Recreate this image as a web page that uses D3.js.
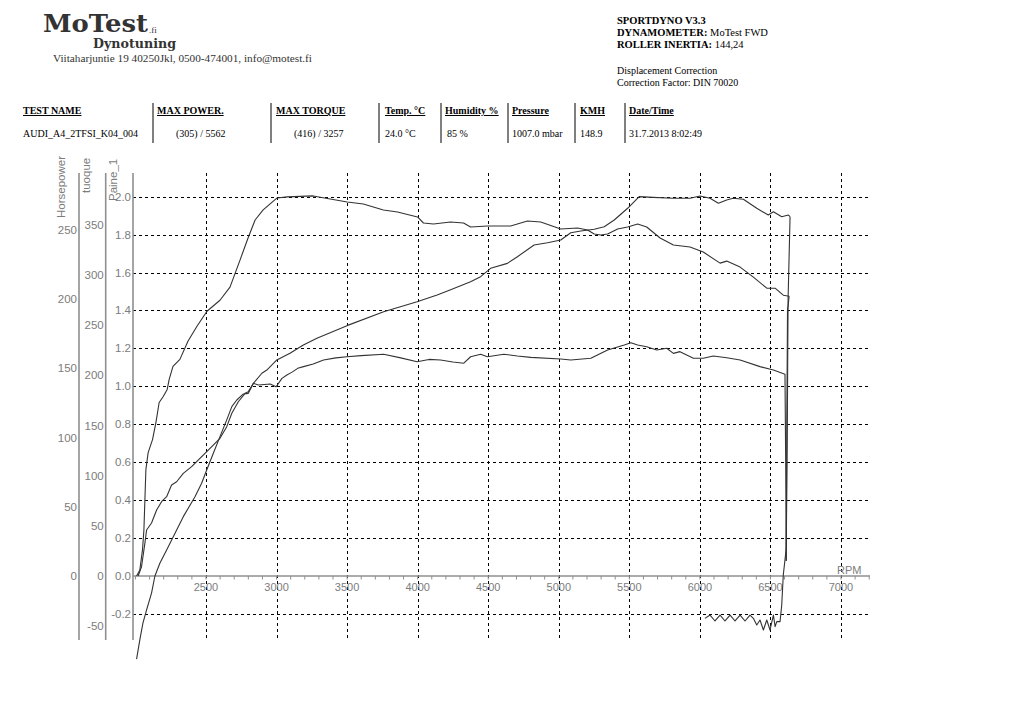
<!DOCTYPE html>
<html>
<head>
<meta charset="utf-8">
<script src="https://cdn.jsdelivr.net/npm/d3@7"></script>
<style>
  body { margin: 0; background: #fff; }
  svg { display: block; }
</style>
</head>
<body>
<div id="chart"></div>
<script>
// ---- data ----
const rpmTicks = d3.range(2500, 7001, 500);
const rpmMinorTicks = d3.range(2000, 7201, 100);
const barTicks = [-0.2, 0, 0.2, 0.4, 0.6, 0.8, 1.0, 1.2, 1.4, 1.6, 1.8, 2.0];
const nmTicks = [-50, 0, 50, 100, 150, 200, 250, 300, 350];
const hpTicks = [0, 50, 100, 150, 200, 250];

// torque run (Nm)
const torqueRpm = [2008, 2031, 2050, 2060, 2074, 2090, 2121, 2145, 2168, 2197, 2225, 2239, 2266, 2315, 2372, 2436,
  2507, 2599, 2670, 2741, 2798, 2848, 2905, 3004, 3075, 3260, 3501, 3615, 3757, 3857, 3999, 4041, 4112, 4233,
  4325, 4375, 4496, 4659, 4778, 4872, 5014, 5133, 5204, 5251, 5298, 5346, 5417, 5488, 5559, 5623, 5718, 5812,
  5930, 6024, 6143, 6190, 6285, 6379, 6474, 6533, 6591, 6632, 6626, 6621, 6616, 6612];
const torqueNm = [0, 6, 26, 46, 106, 123, 136, 153, 173, 179, 186, 196, 209, 216, 234, 249,
  264, 275, 288, 315, 337, 355, 365, 377, 378, 379, 373, 371, 365, 363, 358, 352, 351, 353,
  352, 348, 349, 349, 354, 353, 346, 347, 345, 341, 340, 341, 346, 348, 351, 348, 337, 330,
  328, 323, 312, 314, 308, 298, 287, 287, 280, 279, 270, 266, 150, 15];

// power run (hp)
const powerRpm = [2019, 2043, 2067, 2079, 2114, 2150, 2185, 2221, 2256, 2292, 2339, 2398, 2457, 2516, 2599, 2647,
  2683, 2729, 2777, 2800, 2836, 2896, 2931, 3002, 3095, 3190, 3286, 3499, 3759, 3996, 4138, 4229, 4375, 4446,
  4517, 4636, 4707, 4825, 4920, 5014, 5085, 5156, 5251, 5322, 5393, 5488, 5570, 5668, 5810, 5930, 6001, 6072,
  6131, 6190, 6235, 6308, 6403, 6485, 6521, 6580, 6627, 6639];
const powerHp = [0, 6.7, 23.8, 33.2, 38.3, 47.7, 53.7, 57.3, 65.8, 68.1, 74.2, 79.0, 85.0, 91.0, 99.5, 107.9,
  117.6, 125.9, 132.0, 133.2, 139.2, 146.5, 148.8, 156.1, 160.9, 166.9, 171.7, 180.9, 191.0, 198.2, 203.0, 206.6, 212.6, 216.3,
  222.3, 225.9, 230.7, 239.2, 240.8, 242.8, 248.0, 249.3, 250.5, 252.4, 257.2, 265.7, 274.1, 273.6, 272.9, 272.9, 274.6, 272.9,
  269.3, 271.7, 272.9, 272.2, 265.7, 260.8, 263.2, 259.6, 260.8, 259.6];

// rundown: drop from the end of the run, then coast-down losses (hp)
const coastRpm = [6639, 6625, 6619, 6612, 6591, 6580, 6568, 6545, 6533, 6521, 6497, 6474, 6450, 6426, 6403, 6379,
  6355, 6320, 6285, 6249, 6214, 6178, 6143, 6107, 6072, 6036];
const coastHp = [259.6, 200, 100, 20, 0.7, -21, -33, -33, -36.6, -28.2, -39, -31.8, -39, -31.8, -35.4, -30.6,
  -28.2, -32.5, -28.2, -32.5, -28.2, -32.5, -28.2, -32.5, -28.2, -30.6];

// boost pressure (Paine_1, bar)
const boostRpm = [2008, 2031, 2053, 2079, 2114, 2138, 2173, 2221, 2268, 2339, 2422, 2469, 2505, 2552, 2599, 2647,
  2683, 2718, 2765, 2800, 2836, 2871, 2955, 2997, 3038, 3073, 3110, 3150, 3191, 3260, 3333, 3420, 3499, 3600, 3759,
  3880, 3996, 4080, 4162, 4250, 4327, 4375, 4446, 4494, 4611, 4707, 4801, 5014, 5085, 5227, 5346, 5464, 5511,
  5559, 5623, 5694, 5765, 5812, 5859, 5954, 6024, 6095, 6190, 6285, 6426, 6521, 6603, 6608, 6612];
const boostBar = [-0.438, -0.337, -0.248, -0.179, -0.090, 0, 0.067, 0.137, 0.207, 0.313, 0.418, 0.489, 0.559, 0.647, 0.735, 0.823,
  0.893, 0.928, 0.960, 0.963, 1.016, 1.007, 1.012, 0.998, 1.042, 1.060, 1.075, 1.095, 1.104, 1.118, 1.139, 1.150, 1.156, 1.162, 1.169,
  1.150, 1.130, 1.142, 1.139, 1.128, 1.122, 1.156, 1.169, 1.156, 1.169, 1.160, 1.153, 1.144, 1.139, 1.148, 1.192, 1.218, 1.230,
  1.218, 1.209, 1.192, 1.201, 1.174, 1.183, 1.148, 1.148, 1.160, 1.151, 1.139, 1.104, 1.086, 1.064, 0.6, 0.08];

// header / table text
const titleLines = ["SPORTDYNO V3.3"];
const infoLabels = ["DYNAMOMETER:", "ROLLER INERTIA:"];
const infoValues = [" MoTest FWD", "  144,24"];
const correctionLines = ["Displacement Correction", "Correction Factor: DIN 70020"];
const tableHeaders = ["TEST NAME", "MAX POWER.", "MAX TORQUE", "Temp. \u00B0C", "Humidity %", "Pressure", "KMH", "Date/Time"];
const tableValues = ["AUDI_A4_2TFSI_K04_004", "(305) / 5562", "(416) / 3257", "24.0 \u00B0C", "85 %", "1007.0 mbar", "148.9", "31.7.2013 8:02:49"];

// ---- layout ----
const width = 1024, height = 724;
const axisGray = "#8f8f8f", labelGray = "#7c7c7c", curve = "#333";
const plotTop = 173, plotBottom = 641, plotLeft = 133, plotRight = 869;

const svg = d3.select("#chart").append("svg")
  .attr("width", width).attr("height", height)
  .style("background", "#fff");

const x = d3.scaleLinear().domain([2500, 7000]).range([206, 841]);
const yBar = d3.scaleLinear().domain([0, 2]).range([576, 196.7]);
const yNm = d3.scaleLinear().domain([0, 350]).range([576, 225]);
const yHp = d3.scaleLinear().domain([0, 250]).range([576, 230]);

/* -----------------------------
   Header
-------------------------------- */
const head = svg.append("g").attr("fill", "#333");
head.append("text").attr("x", 43).attr("y", 32)
  .style("font-family", "'DejaVu Serif', serif").style("font-weight", "bold").style("font-size", "24px")
  .attr("textLength", 105).attr("lengthAdjust", "spacingAndGlyphs")
  .text("MoTest");
head.append("text").attr("x", 149).attr("y", 33)
  .style("font-family", "'Liberation Serif', serif").style("font-size", "9px")
  .text(".fi");
head.append("text").attr("x", 93).attr("y", 48)
  .style("font-family", "'DejaVu Serif', serif").style("font-weight", "bold").style("font-size", "12.5px")
  .attr("textLength", 83).attr("lengthAdjust", "spacingAndGlyphs")
  .text("Dynotuning");
head.append("text").attr("x", 53).attr("y", 62)
  .style("font-family", "'Liberation Serif', serif").style("font-size", "9.5px")
  .attr("textLength", 259).attr("lengthAdjust", "spacingAndGlyphs")
  .text("Viitaharjuntie 19 40250Jkl, 0500-474001, info@motest.fi");

const info = svg.append("g")
  .style("font-family", "'Liberation Serif', 'Times New Roman', serif")
  .style("font-size", "10.5px").attr("fill", "#000");
info.append("text").attr("x", 617).attr("y", 24).style("font-weight", "bold").text(titleLines[0]);
infoLabels.forEach((lab, i) => {
  const t = info.append("text").attr("x", 617).attr("y", 36 + i * 12.2);
  t.append("tspan").style("font-weight", "bold").text(lab);
  t.append("tspan").text(infoValues[i]);
});
correctionLines.forEach((line, i) => {
  info.append("text").attr("x", 617).attr("y", 74 + i * 12)
    .style("font-size", "10px").text(line);
});

/* -----------------------------
   Result table
-------------------------------- */
const colX = [23, 157, 276, 385, 445, 512, 580, 629];
const valX = [23, 176, 294, 385, 447, 512, 580, 629];
const seps = [153, 271, 379, 441, 508, 575, 625];

const table = svg.append("g")
  .style("font-family", "'Liberation Serif', 'Times New Roman', serif")
  .style("font-size", "10px").attr("fill", "#000");
table.selectAll("text.h").data(tableHeaders).enter().append("text")
  .attr("class", "h").attr("x", (d, i) => colX[i]).attr("y", 114)
  .style("font-weight", "bold").style("text-decoration", "underline")
  .text(d => d);
table.selectAll("text.v").data(tableValues).enter().append("text")
  .attr("class", "v").attr("x", (d, i) => valX[i]).attr("y", 137)
  .text(d => d);
table.selectAll("line").data(seps).enter().append("line")
  .attr("x1", d => d).attr("x2", d => d).attr("y1", 103).attr("y2", 143)
  .attr("stroke", "#000").attr("stroke-width", 1);

/* -----------------------------
   Grid
-------------------------------- */
const grid = svg.append("g").attr("stroke", "#000").attr("stroke-width", 1)
  .attr("stroke-dasharray", "3,3").attr("fill", "none");
grid.selectAll("line.v").data(rpmTicks).enter().append("line")
  .attr("x1", d => Math.round(x(d)) + 0.5).attr("x2", d => Math.round(x(d)) + 0.5)
  .attr("y1", plotTop).attr("y2", plotBottom);
grid.selectAll("line.h").data(barTicks.filter(d => d !== 0)).enter().append("line")
  .attr("y1", d => Math.round(yBar(d)) + 0.5).attr("y2", d => Math.round(yBar(d)) + 0.5)
  .attr("x1", plotLeft).attr("x2", plotRight);

/* -----------------------------
   Axes
-------------------------------- */
const axes = svg.append("g")
  .style("font-family", "'Liberation Sans', Arial, sans-serif")
  .style("font-size", "11.5px");

// x axis
axes.append("line").attr("x1", plotLeft).attr("x2", 870).attr("y1", 576).attr("y2", 576)
  .attr("stroke", axisGray).attr("stroke-width", 1.6);
axes.selectAll("line.mt").data(rpmMinorTicks).enter().append("line")
  .attr("x1", d => x(d)).attr("x2", d => x(d)).attr("y1", 576).attr("y2", 579.5)
  .attr("stroke", axisGray).attr("stroke-width", 1);
axes.selectAll("text.xl").data(rpmTicks).enter().append("text")
  .attr("x", d => x(d)).attr("y", 591).attr("text-anchor", "middle")
  .attr("fill", labelGray).style("font-size", "11px").text(d => d);
axes.append("text").attr("x", 837).attr("y", 574).attr("fill", labelGray)
  .style("font-size", "11px").text("RPM");

// left axes: Horsepower, tuoque, Paine_1
const leftAxes = [
  { x: 79, scale: yHp, ticks: hpTicks, fmt: d3.format("d"), title: "Horsepower", tx: 65, ty: 218 },
  { x: 105.7, scale: yNm, ticks: nmTicks, fmt: d3.format("d"), title: "tuoque", tx: 90, ty: 193 },
  { x: 133, scale: yBar, ticks: barTicks, fmt: d3.format(".1f"), title: "Paine_1", tx: 117, ty: 201 }
];
leftAxes.forEach(a => {
  axes.append("line").attr("x1", a.x).attr("x2", a.x).attr("y1", plotTop).attr("y2", 640)
    .attr("stroke", axisGray).attr("stroke-width", 1.6);
  axes.selectAll(null).data(a.ticks).enter().append("text")
    .attr("x", a.x - 2).attr("y", d => a.scale(d) + 4)
    .attr("text-anchor", "end").attr("fill", labelGray)
    .text(d => a.fmt(d).replace("\u2212", "-"));
  axes.append("text")
    .attr("transform", `translate(${a.tx},${a.ty}) rotate(-90)`)
    .attr("fill", labelGray).text(a.title);
});

/* -----------------------------
   Curves
-------------------------------- */
const plot = svg.append("g").attr("fill", "none").attr("stroke", curve)
  .attr("stroke-width", 1.1).attr("stroke-linejoin", "round");

const torqueLine = d3.line().x(d => x(d[0])).y(d => yNm(d[1]));
const hpLine = d3.line().x(d => x(d[0])).y(d => yHp(d[1]));
const barLine = d3.line().x(d => x(d[0])).y(d => yBar(d[1]));

plot.append("path").attr("d", torqueLine(d3.zip(torqueRpm, torqueNm)));
plot.append("path").attr("d", hpLine(d3.zip(powerRpm, powerHp)));
plot.append("path").attr("d", hpLine(d3.zip(coastRpm, coastHp)));
plot.append("path").attr("d", barLine(d3.zip(boostRpm, boostBar)));
</script>
</body>
</html>
